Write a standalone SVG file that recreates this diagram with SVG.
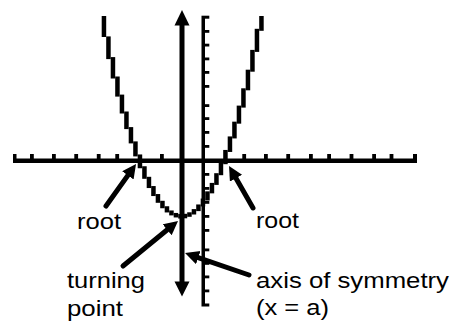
<svg xmlns="http://www.w3.org/2000/svg" width="453" height="322" viewBox="0 0 453 322">
<style>
.ink{fill:#000}
.lbl{font-family:"Liberation Sans",Arial,sans-serif;font-size:22px;fill:#000}
.ptr{stroke:#000;stroke-width:5;fill:none;stroke-linecap:round;marker-end:url(#head)}
</style>
<defs>
<marker id="head" markerUnits="userSpaceOnUse" markerWidth="16" markerHeight="15" refX="4" refY="7" orient="auto" viewBox="0 0 16 15">
<path d="M0,0 L14,7 L0,14 z" fill="#000"/>
</marker>
</defs>
<rect width="453" height="322" fill="#fff"/>
<g id="x-axis" class="ink">
<rect x="13" y="158.5" width="404" height="4.5"/>
<rect x="13" y="154" width="3.5" height="5"/>
<rect x="30" y="154" width="3.8" height="5"/>
<rect x="52" y="154" width="3.8" height="5"/>
<rect x="74.3" y="154" width="3.8" height="5"/>
<rect x="96.8" y="154" width="3.8" height="5"/>
<rect x="115.3" y="154" width="3.8" height="5"/>
<rect x="160" y="154" width="3.8" height="5"/>
<rect x="242.3" y="154" width="3.8" height="5"/>
<rect x="264" y="154" width="3.8" height="5"/>
<rect x="286.3" y="154" width="3.8" height="5"/>
<rect x="309" y="154" width="3.8" height="5"/>
<rect x="327.2" y="154" width="3.8" height="5"/>
<rect x="349.6" y="154" width="3.8" height="5"/>
<rect x="372.2" y="154" width="3.8" height="5"/>
<rect x="389.6" y="154" width="3.8" height="5"/>
<rect x="413" y="154" width="4" height="5"/>
</g>
<g id="y-axis" class="ink">
<rect x="201.5" y="15.7" width="3.5" height="290.8"/>
<rect x="205" y="15.7" width="4.3" height="3"/>
<rect x="205" y="30" width="4.3" height="2.8"/>
<rect x="205" y="43.7" width="4.3" height="2.8"/>
<rect x="205" y="57.5" width="4.3" height="2.8"/>
<rect x="205" y="71" width="4.3" height="2.8"/>
<rect x="205" y="85" width="4.3" height="2.8"/>
<rect x="205" y="104.2" width="4.3" height="2.8"/>
<rect x="205" y="117.2" width="4.3" height="2.8"/>
<rect x="205" y="131" width="4.3" height="2.8"/>
<rect x="205" y="145" width="4.3" height="2.8"/>
<rect x="205" y="173" width="4.3" height="2.8"/>
<rect x="205" y="187" width="4.3" height="2.8"/>
<rect x="205" y="201" width="4.3" height="2.8"/>
<rect x="205" y="215" width="4.3" height="2.8"/>
<rect x="205" y="229" width="4.3" height="2.8"/>
<rect x="205" y="248.5" width="4.3" height="2.8"/>
<rect x="205" y="262" width="4.3" height="2.8"/>
<rect x="205" y="275.5" width="4.3" height="2.8"/>
<rect x="205" y="289.5" width="4.3" height="2.8"/>
<rect x="205" y="303.5" width="4.3" height="3"/>
</g>
<g id="parabola" class="ink">
<rect x="101.7" y="16" width="4.5" height="21"/>
<rect x="106.2" y="36.4" width="4.5" height="22.7"/>
<rect x="110.7" y="57.1" width="4.5" height="21.4"/>
<rect x="115.2" y="76.5" width="4.5" height="20.1"/>
<rect x="119.7" y="94.6" width="4.5" height="18.9"/>
<rect x="124.2" y="111.5" width="4.5" height="17.6"/>
<rect x="128.7" y="127.1" width="4.5" height="16.3"/>
<rect x="133.2" y="141.4" width="4.5" height="15"/>
<rect x="137.7" y="154.45" width="4.5" height="13.8"/>
<rect x="142.2" y="166.25" width="4.5" height="12.55"/>
<rect x="146.7" y="176.8" width="4.5" height="11.25"/>
<rect x="151.2" y="186.05" width="4.5" height="10"/>
<rect x="155.7" y="194.05" width="4.5" height="8.75"/>
<rect x="160.2" y="200.8" width="4.5" height="7.45"/>
<rect x="164.7" y="206.25" width="4.5" height="6.2"/>
<rect x="169.2" y="210.46" width="4.5" height="4.94"/>
<rect x="173.7" y="212.95" width="4.5" height="4.5"/>
<rect x="178.2" y="214.05" width="4.5" height="4.5"/>
<rect x="182.7" y="213.8" width="4.5" height="4.5"/>
<rect x="187.2" y="212.3" width="4.5" height="4.5"/>
<rect x="191.7" y="209.11" width="4.5" height="5.39"/>
<rect x="196.2" y="204.46" width="4.5" height="6.65"/>
<rect x="200.7" y="198.53" width="4.5" height="7.93"/>
<rect x="205.2" y="191.35" width="4.5" height="9.18"/>
<rect x="209.7" y="182.9" width="4.5" height="10.45"/>
<rect x="214.2" y="173.2" width="4.5" height="11.7"/>
<rect x="218.7" y="162.2" width="4.5" height="13"/>
<rect x="223.2" y="149.95" width="4.5" height="14.25"/>
<rect x="227.7" y="136.43" width="4.5" height="15.52"/>
<rect x="232.2" y="121.66" width="4.5" height="16.77"/>
<rect x="236.7" y="105.61" width="4.5" height="18.05"/>
<rect x="241.2" y="88.3" width="4.5" height="19.31"/>
<rect x="245.7" y="69.7" width="4.5" height="20.6"/>
<rect x="250.2" y="49.9" width="4.5" height="21.8"/>
<rect x="254.7" y="28.8" width="4.5" height="23.1"/>
<rect x="259.2" y="16" width="4.5" height="14.8"/>
</g>
<g id="symmetry-axis" class="ink">
<rect x="179.5" y="24" width="5" height="259"/>
<path d="M182,10 L189.5,25.5 L174.5,25.5 z"/>
<path d="M182,296.5 L189.5,281.5 L174.5,281.5 z"/>
</g>
<g id="connectors">
<path class="ptr" d="M106,206 L130.2,172.1"/>
<path class="ptr" d="M253,208 L234,174.7"/>
<path class="ptr" d="M123,266 L170.3,227.3"/>
<path class="ptr" d="M249,275 L194.5,256.3"/>
</g>
<g id="label-root-left"><text class="lbl" x="77" y="229" textLength="44" lengthAdjust="spacingAndGlyphs">root</text></g>
<g id="label-root-right"><text class="lbl" x="256" y="228" textLength="43" lengthAdjust="spacingAndGlyphs">root</text></g>
<g id="label-turning-point">
<text class="lbl" x="67" y="288" textLength="78" lengthAdjust="spacingAndGlyphs">turning</text>
<text class="lbl" x="67" y="316" textLength="56" lengthAdjust="spacingAndGlyphs">point</text>
</g>
<g id="label-axis">
<text class="lbl" x="256" y="288" textLength="193" lengthAdjust="spacingAndGlyphs">axis of symmetry</text>
<text class="lbl" x="256" y="315" textLength="73" lengthAdjust="spacingAndGlyphs">(x = a)</text>
</g>
</svg>
